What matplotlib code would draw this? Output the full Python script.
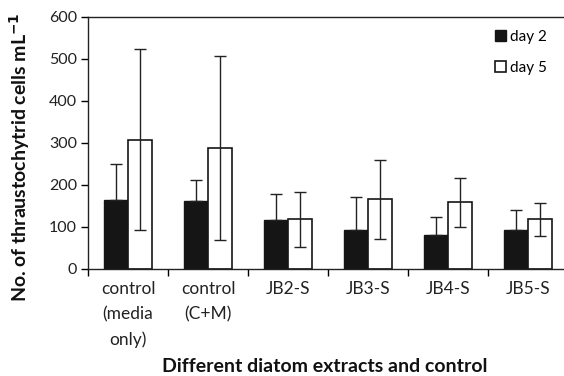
import matplotlib
matplotlib.use("Agg")
import matplotlib.pyplot as plt
import numpy as np

categories = ["control\n(media\nonly)", "control\n(C+M)", "JB2-S", "JB3-S", "JB4-S", "JB5-S"]
day2 = [165, 161, 116, 92, 80, 92]
day2_err = [84, 50, 63, 79, 44, 49]
day5 = [308, 288, 118, 166, 159, 118]
day5_err = [216, 218, 65, 94, 58, 40]
yticks = [0, 100, 200, 300, 400, 500, 600]

plt.rcParams['font.family'] = ['Lato', 'DejaVu Sans']

fig = plt.figure(figsize=(5.64, 3.76), dpi=100)
ax = fig.add_axes([88/564, 1-269/376, 480/564, 252/376])

x = np.arange(len(categories))
w = 0.3
ax.bar(x - w/2, day2, w, color='#151515', edgecolor='#151515', linewidth=1, label='day 2', zorder=2)
ax.bar(x + w/2, day5, w, color='white', edgecolor='#151515', linewidth=1.2, label='day 5', zorder=2)
ax.errorbar(x - w/2, day2, yerr=[np.zeros(len(day2)), day2_err], fmt='none', ecolor='#222222',
            elinewidth=1, capsize=4, capthick=1, zorder=3)
ax.errorbar(x + w/2, day5, yerr=day5_err, fmt='none', ecolor='#222222',
            elinewidth=1, capsize=4, capthick=1, zorder=3)

ax.set_xlim(-0.5, len(categories) - 0.5)
ax.set_ylim(0, 600)
ax.set_yticks(yticks)
ax.set_xticks(np.arange(len(categories) + 1) - 0.5, minor=False)
ax.set_xticklabels([])
ax.set_xticks(x, minor=True)
ax.set_xticklabels(categories, minor=True, fontsize=12.5, color='#222222', linespacing=1.65,
                   va='top')
ax.tick_params(axis='x', which='minor', length=0, pad=9)
ax.tick_params(axis='x', which='major', length=5, direction='out', width=1)
ax.tick_params(axis='y', length=5, direction='out', width=1, labelsize=11.5, labelcolor='#222222', pad=3)

for s in ['left', 'bottom', 'top']:
    ax.spines[s].set_linewidth(1)
    ax.spines[s].set_color('#222222')
ax.spines['right'].set_visible(False)

fig.text(20/564, 1-157/376, "No. of thraustochytrid cells mL$^{\\mathbf{-1}}$", fontsize=14,
         fontweight='bold', rotation=90, ha='center', va='center', color='#111111')
fig.text(325/564, 1-367/376, "Different diatom extracts and control", fontsize=14, fontweight='bold',
         ha='center', va='center', color='#111111')

leg = fig.legend(loc='upper left', bbox_to_anchor=(495/564, 1-30/376), frameon=False, fontsize=11,
                 handlelength=0.7, handleheight=0.7, handletextpad=0.3, labelspacing=1.1,
                 borderaxespad=0, borderpad=0)

fig.savefig("out.png", dpi=100)
